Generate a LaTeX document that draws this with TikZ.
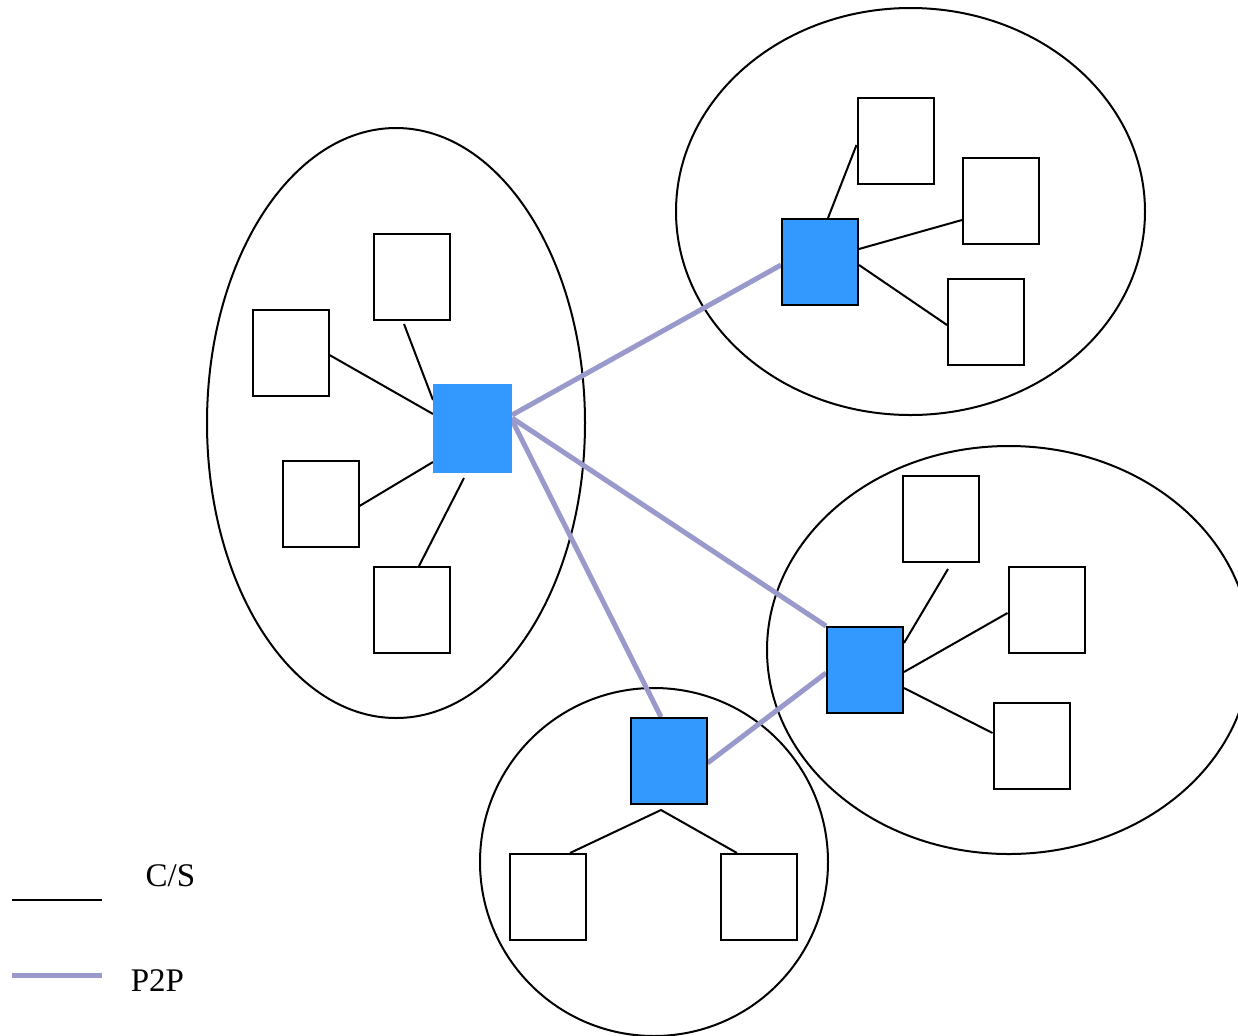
\documentclass[tikz,border=0pt]{standalone}
\usepackage{fontspec}
\setmainfont{Liberation Serif}
\usetikzlibrary{calc,backgrounds}
\definecolor{hubblue}{HTML}{3399FF}
\definecolor{ptwo}{HTML}{9999CC}
\begin{document}
\begin{tikzpicture}[x=0.5pt,y=-0.5pt,
  client/.style={draw=black,line width=1pt,fill=white,minimum width=38pt,minimum height=43pt,inner sep=0pt},
  hub/.style={draw=black,line width=1pt,fill=hubblue,minimum width=38pt,minimum height=43pt,inner sep=0pt},
  cs/.style={draw=black,line width=1pt},
  p2p/.style={draw=ptwo,line width=2.5pt},
  zone/.style={draw=black,line width=1pt},
  lbl/.style={font=\fontsize{16.5pt}{18pt}\selectfont,inner sep=0pt}]
\useasboundingbox (0,0) rectangle (1238,1035);
\clip (0,0) rectangle (1238,1035);

% left cluster
\node[hub,draw=hubblue,minimum width=38.5pt,minimum height=43.5pt] (hL) at (472.5,428.5) {};
\node[client] (L1) at (411.5,277) {};
\node[client] (L2) at (290.5,353) {};
\node[client] (L3) at (320.5,504) {};
\node[client] (L4) at (411.5,610) {};

% top-right cluster
\node[hub] (hT) at (820,262) {};
\node[client] (T1) at (895.5,141) {};
\node[client] (T2) at (1001,201) {};
\node[client] (T3) at (986,322) {};

% right cluster
\node[hub] (hR) at (865,670) {};
\node[client] (R1) at (940.5,519) {};
\node[client] (R2) at (1046.5,610) {};
\node[client] (R3) at (1031.5,746) {};

% bottom cluster
\node[hub] (hB) at (668.5,761) {};
\node[client] (B1) at (547.5,897) {};
\node[client] (B2) at (759,897) {};

\begin{scope}[on background layer]
  % domains
  \draw[zone] (396,423) ellipse [x radius=189, y radius=295];
  \draw[zone] (910.5,211.5) ellipse [x radius=234.5, y radius=203.5];
  \draw[zone] (1008.8,650) ellipse [x radius=241.8, y radius=204];
  \draw[zone] (654,862) ellipse [x radius=174, y radius=174];

  % client/server links
  \draw[cs] ($(L1.south)+(-7.5,3)$) -- ($(hL.west)+(0,-28.5)$);
  \draw[cs] ($(L2.east)+(0,2)$) -- ($(hL.west)+(0,-14.5)$);
  \draw[cs] ($(L3.east)+(0,2)$) -- ($(hL.west)+(0,33.5)$);
  \draw[cs] ($(L4.north)+(7.5,0)$) -- ($(hL.south)+(-8.5,5)$);

  \draw[cs] ($(hT.north)+(8,0)$) -- ($(T1.west)+(0,4)$);
  \draw[cs] ($(hT.east)+(0,-13)$) -- ($(T2.west)+(0,19)$);
  \draw[cs] ($(hT.east)+(0,3)$) -- ($(T3.west)+(0,3)$);

  \draw[cs] ($(hR.east)+(0,-27)$) -- ($(R1.south)+(7.5,6)$);
  \draw[cs] ($(hR.east)+(0,2)$) -- ($(R2.west)+(0,3)$);
  \draw[cs] ($(hR.east)+(0,18)$) -- ($(R3.west)+(0,-13)$);

  \coordinate (bfork) at ($(hB.south)+(-7.5,5)$);
  \draw[cs] ($(B1.north)+(22.5,0)$) -- (bfork) -- ($(B2.north)+(-22,0)$);

  % peer-to-peer links
  \draw[p2p] ($(hL.east)+(0,-13.5)$) -- ($(hT.west)+(0,3)$);
  \draw[p2p] ($(hL.east)+(0,-10.5)$) -- (hR.north west);
  \draw[p2p] ($(hL.east)+(0,-8.5)$) -- ($(hB.north)+(-7.5,0)$);
  \draw[p2p] ($(hB.east)+(0,2)$) -- ($(hR.west)+(0,3)$);
\end{scope}

% legend
\coordinate (csA) at (12,900);
\coordinate (csB) at (102,900);
\coordinate (ppA) at (12,975);
\coordinate (ppB) at (102,975);
\draw[cs] (csA) -- (csB);
\draw[p2p] (ppA) -- (ppB);
\node[lbl] (csl) at (170.5,876) {C/S};
\node[lbl] (ppl) at (157.5,981) {P2P};
\end{tikzpicture}
\end{document}
